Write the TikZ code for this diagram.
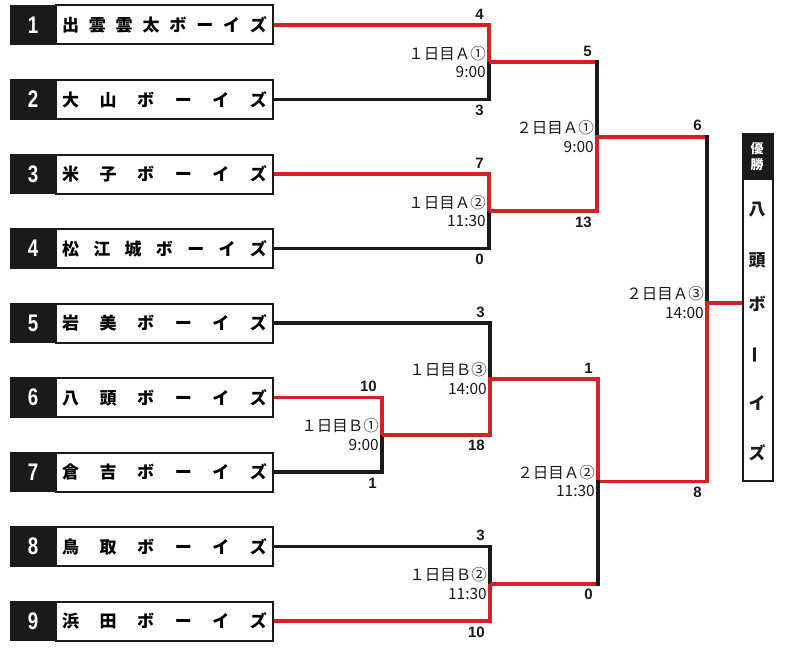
\documentclass[tikz,border=0pt]{standalone}
\usepackage{fontspec}
\setmainfont{Noto Sans CJK JP}
\newfontfamily\jpfont{Noto Sans CJK JP}
\newfontfamily\numfont{Liberation Sans}
\definecolor{wred}{RGB}{212,32,39}
\definecolor{ink}{RGB}{26,26,26}
\begin{document}
\begin{tikzpicture}[x=1pt,y=-1pt,
  numbox/.style={fill=ink,draw=ink,line width=1.5pt,minimum width=44pt,minimum height=39pt,inner sep=0pt,text=white,
    font=\numfont\bfseries\fontsize{24}{24}\selectfont},
  namebox/.style={draw=ink,fill=white,line width=2pt,minimum width=217pt,minimum height=39pt,inner sep=0pt,
    font=\jpfont\bfseries\fontsize{17}{17}\selectfont},
  winline/.style={wred,line width=3.6pt},
  loseline/.style={ink,line width=3.6pt},
  vwin/.style={wred,line width=3.6pt,line cap=rect},
  vlose/.style={ink,line width=3.6pt,line cap=rect},
  score/.style={font=\numfont\bfseries\fontsize{15}{15}\selectfont,anchor=east,inner sep=0pt,text=ink},
  mlabel/.style={font=\jpfont\fontsize{15.5}{15.5}\selectfont,anchor=east,inner sep=0pt,text=ink},
  champchar/.style={font=\jpfont\bfseries\fontsize{17}{17}\selectfont,inner sep=0pt,text=ink}
]
\useasboundingbox (0,0) rectangle (800,650);
\fill[white] (0,0) rectangle (800,650);

% teams
\foreach \i/\nm in {1/{出\hfill 雲\hfill 雲\hfill 太\hfill ボ\hfill ー\hfill イ\hfill ズ},
                    2/{大\hfill 山\hfill ボ\hfill ー\hfill イ\hfill ズ},
                    3/{米\hfill 子\hfill ボ\hfill ー\hfill イ\hfill ズ},
                    4/{松\hfill 江\hfill 城\hfill ボ\hfill ー\hfill イ\hfill ズ},
                    5/{岩\hfill 美\hfill ボ\hfill ー\hfill イ\hfill ズ},
                    6/{八\hfill 頭\hfill ボ\hfill ー\hfill イ\hfill ズ},
                    7/{倉\hfill 吉\hfill ボ\hfill ー\hfill イ\hfill ズ},
                    8/{鳥\hfill 取\hfill ボ\hfill ー\hfill イ\hfill ズ},
                    9/{浜\hfill 田\hfill ボ\hfill ー\hfill イ\hfill ズ}} {
  \pgfmathsetmacro{\yy}{25+(\i-1)*74.5}
  \node[namebox,anchor=west] (t\i) at (55,\yy) {\makebox[205pt]{\nm}};
  \node[numbox] (n\i) at (33,\yy) {\scalebox{0.78}[1]{\i}};
}

% bracket joints
\coordinate (A1) at (489,62.25);
\coordinate (A2) at (489,211.25);
\coordinate (S1) at (597,136.75);
\coordinate (B1) at (382,434.75);
\coordinate (B3) at (490,378.9);
\coordinate (B2) at (490,583.75);
\coordinate (S2) at (598,481.3);
\coordinate (F)  at (707,303);

% champion box
\node[draw=ink,line width=2pt,fill=white,minimum width=30pt,minimum height=347pt,inner sep=0pt,anchor=north west] (champ) at (742,133) {};
\node[fill=ink,minimum width=30pt,minimum height=47pt,inner sep=0pt,anchor=north] (champhd) at (champ.north) {};
\node[text=white,font=\jpfont\bfseries\fontsize{13}{16}\selectfont,align=center,inner sep=0pt] (champlbl) at (757,157) {優\\勝};
\node[champchar] (c1) at (757,210) {八};
\node[champchar] (c2) at (757,260) {頭};
\node[champchar] (c3) at (757,304) {ボ};
\node[champchar,rotate=90] (c4) at (757,355) {ー};
\node[champchar] (c5) at (757,403) {イ};
\node[champchar] (c6) at (757,453) {ズ};

% round 1 (team lines)
\draw[winline] (t1.east) -| (A1);
\draw[loseline] (t2.east) -| (A1);
\draw[winline] (t3.east) -| (A2);
\draw[loseline] (t4.east) -| (A2);
\draw[winline] (t6.east) -| (B1);
\draw[loseline] (t7.east) -| (B1);
\draw[loseline] (t5.east) -| (B3);
\draw[loseline] (t8.east) -| (B2);
\draw[winline] (t9.east) -| (B2);

% match outputs
\draw[winline] (A1) -- (A1 -| S1);
\draw[winline] (A2) -- (A2 -| S1);
\draw[winline] (B1) -- (B1 -| B3);
\draw[winline] (B3) -- (B3 -| S2);
\draw[winline] (B2) -- (B2 -| S2);
\draw[winline] (S1) -- (S1 -| F);
\draw[winline] (S2) -- (S2 -| F);
\draw[winline] (F) -- (champ.west |- F);

% vertical halves
\draw[vlose] (A1 -| S1) -- (S1);
\draw[vwin] (A2 -| S1) -- (S1);
\draw[vwin] (B1 -| B3) -- (B3);
\draw[vwin] (B3 -| S2) -- (S2);
\draw[vlose] (B2 -| S2) -- (S2);
\draw[vlose] (S1 -| F) -- (F);
\draw[vwin] (S2 -| F) -- (F);

% scores
\node[score] (sa1) at (484,14) {4};
\node[score] (sa2) at (484,110.5) {3};
\node[score] (sa3) at (484,163) {7};
\node[score] (sa4) at (484,259.5) {0};
\node[score] (ss1) at (592,51.25) {5};
\node[score] (ss2) at (592,222.25) {13};
\node[score] (sf1) at (702,125.75) {6};
\node[score] (sf2) at (702,492.3) {8};
\node[score] (sb1) at (485,312) {3};
\node[score] (sb2) at (485,445.75) {18};
\node[score] (sb3) at (377,386.5) {10};
\node[score] (sb4) at (377,483) {1};
\node[score] (sb5) at (485,535.5) {3};
\node[score] (sb6) at (485,632) {10};
\node[score] (ss3) at (593,367.9) {1};
\node[score] (ss4) at (593,594.75) {0};

% match labels
\node[mlabel] (ma1) at ([xshift=-3pt,yshift=9pt]A1) {１日目Ａ①};
\node[mlabel] (ma1t) at ([xshift=-3pt,yshift=-10pt]A1) {9:00};
\node[mlabel] (ma2) at ([xshift=-3pt,yshift=9pt]A2) {１日目Ａ②};
\node[mlabel] (ma2t) at ([xshift=-3pt,yshift=-10pt]A2) {11:30};
\node[mlabel] (ms1) at ([xshift=-3pt,yshift=9pt]S1) {２日目Ａ①};
\node[mlabel] (ms1t) at ([xshift=-3pt,yshift=-10pt]S1) {9:00};
\node[mlabel] (mb1) at ([xshift=-3pt,yshift=9pt]B1) {１日目Ｂ①};
\node[mlabel] (mb1t) at ([xshift=-3pt,yshift=-10pt]B1) {9:00};
\node[mlabel] (mb3) at ([xshift=-3pt,yshift=9pt]B3) {１日目Ｂ③};
\node[mlabel] (mb3t) at ([xshift=-3pt,yshift=-10pt]B3) {14:00};
\node[mlabel] (mb2) at ([xshift=-3pt,yshift=9pt]B2) {１日目Ｂ②};
\node[mlabel] (mb2t) at ([xshift=-3pt,yshift=-10pt]B2) {11:30};
\node[mlabel] (ms2) at ([xshift=-3pt,yshift=9pt]S2) {２日目Ａ②};
\node[mlabel] (ms2t) at ([xshift=-3pt,yshift=-10pt]S2) {11:30};
\node[mlabel] (mf) at ([xshift=-3pt,yshift=9pt]F) {２日目Ａ③};
\node[mlabel] (mft) at ([xshift=-3pt,yshift=-10pt]F) {14:00};
\end{tikzpicture}
\end{document}
